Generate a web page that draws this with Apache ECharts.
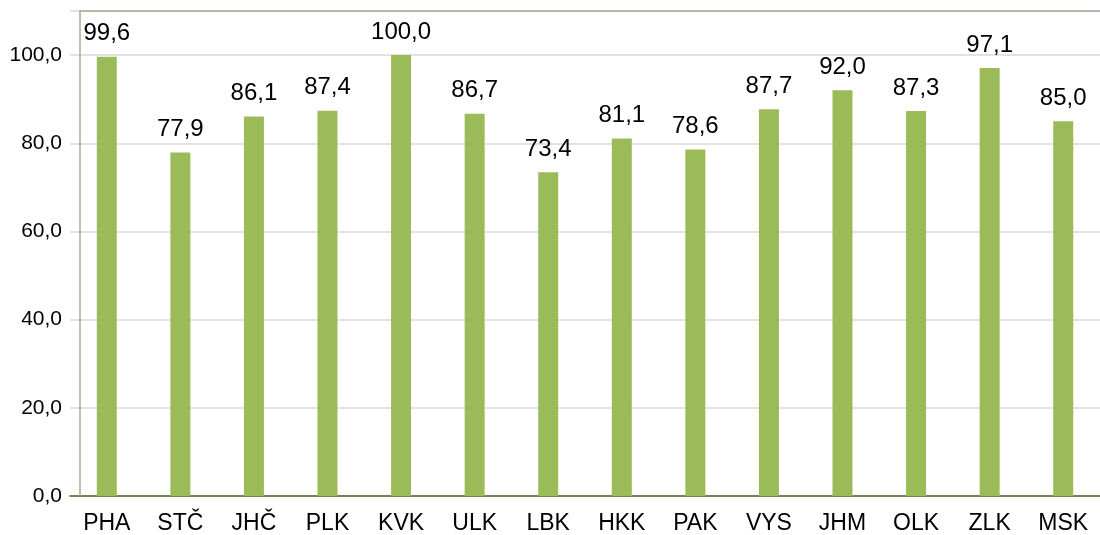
<!DOCTYPE html>
<html><head><meta charset="utf-8">
<script src="https://cdn.jsdelivr.net/npm/echarts@6/dist/echarts.min.js"></script>
<style>html,body{margin:0;padding:0;background:#fff}#c{width:1100px;height:535px}</style>
</head><body><div id="c"></div>
<script>
const categories = ['PHA','STČ','JHČ','PLK','KVK','ULK','LBK','HKK','PAK','VYS','JHM','OLK','ZLK','MSK'];
const values = [99.6,77.9,86.1,87.4,100.0,86.7,73.4,81.1,78.6,87.7,92.0,87.3,97.1,85.0];
const yTicks = [0,20,40,60,80,100];
const fmt = v => v.toFixed(1).replace('.', ',');
const chart = echarts.init(document.getElementById('c'));
const font = 'Liberation Sans, Arial, sans-serif';
chart.setOption({
  animation: false,
  grid: {left: 70, right: 0, top: 11, bottom: 39},
  xAxis: {
    type: 'category', data: categories,
    axisLine: {lineStyle: {color: '#4f6228', width: 1.5}},
    axisTick: {show: false},
    axisLabel: {color: '#000', fontSize: 23, fontFamily: font, margin: 16}
  },
  yAxis: {
    type: 'value', min: 0, max: 110, interval: 20,
    axisLine: {show: false}, axisTick: {show: false},
    axisLabel: {color: '#000', fontSize: 21, fontFamily: font, margin: 8,
      formatter: v => yTicks.includes(v) ? fmt(v) : ''},
    splitLine: {lineStyle: {color: '#d9d9d9', width: 1.5}}
  },
  graphic: [{
    type: 'polyline', z: 100,
    shape: {points: [[80, 496], [80, 11], [1100, 11]]},
    style: {stroke: '#a4ac94', lineWidth: 1.5, fill: null}
  }],
  series: [{
    type: 'bar', data: values, barWidth: 20,
    itemStyle: {color: '#9bbb59'},
    label: {show: true, position: 'top', distance: 11, color: '#000',
      fontSize: 24, fontFamily: font, formatter: p => fmt(p.value)}
  }]
});
</script></body></html>
